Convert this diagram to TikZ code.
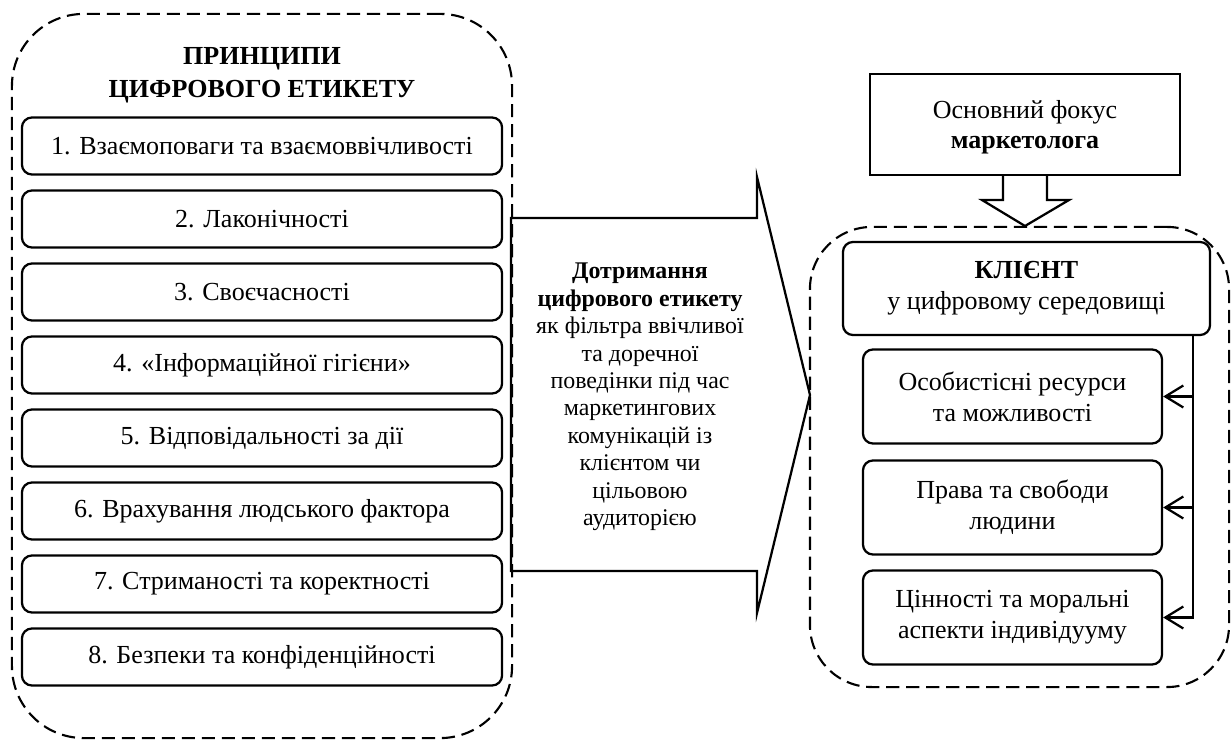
\documentclass[tikz,border=0pt]{standalone}
\usepackage{fontspec}
\setmainfont{Liberation Serif}
\usetikzlibrary{arrows.meta}

\tikzset{
  container/.style={draw, dash pattern=on 0.33cm off 0.17cm, line width=1.5pt, inner sep=0pt},
  box/.style={draw, line width=1.6pt, rounded corners=0.25cm, inner sep=0pt, align=center},
  principle/.style={box, minimum width=12cm, minimum height=1.425cm},
  aspect/.style={box, minimum width=7.475cm, minimum height=2.35cm},
  link/.style={line width=1.6pt, -{Straight Barb[length=0.45cm, width=0.55cm]}},
}

\begin{document}
\begin{tikzpicture}[x=0.025cm, y=-0.025cm, font=\fontsize{18.5pt}{22pt}\selectfont]
    \useasboundingbox (0,0) rectangle (1231,740);

    % left block
    \node[container, rounded corners=1.8cm, minimum width=12.5cm, minimum height=18.1cm] (principles) at (262,376) {};
    \node[font=\fontsize{18.5pt}{23.5pt}\selectfont\bfseries, align=center] (title) at (262,75.5) {ПРИНЦИПИ\\ЦИФРОВОГО ЕТИКЕТУ};
    \node[principle] (p1) at (262,146) {1. Взаємоповаги та взаємоввічливості};
    \node[principle] (p2) at (262,219) {2. Лаконічності};
    \node[principle] (p3) at (262,292) {3. Своєчасності};
    \node[principle] (p4) at (262,365) {4. «Інформаційної гігієни»};
    \node[principle] (p5) at (262,438) {5. Відповідальності за дії};
    \node[principle] (p6) at (262,511) {6. Врахування людського фактора};
    \node[principle] (p7) at (262,584) {7. Стриманості та коректності};
    \node[principle] (p8) at (262,657) {8. Безпеки та конфіденційності};

    % big arrow
    \draw[line width=1.6pt] (511,218) -- (757,218) -- (757,177) -- (810,395)
        -- (757,613) -- (757,571) -- (511,571) -- cycle;
    \node[align=center, font=\fontsize{17pt}{19.5pt}\selectfont] (filter) at (640,397) {\textbf{Дотримання}\\\textbf{цифрового етикету}\\як фільтра ввічливої\\та доречної\\поведінки під час\\маркетингових\\комунікацій із\\клієнтом чи\\цільовою\\аудиторією};

    % right block
    \node[draw, line width=1.6pt, minimum width=7.75cm, minimum height=2.525cm, align=center, text depth=-3pt] (focus) at (1025,124.5) {Основний фокус\\\textbf{маркетолога}};
    \draw[line width=1.6pt] (1003,175) -- (1003,200) -- (982,200) -- (1025,226)
        -- (1069,200) -- (1047,200) -- (1047,175);
    \node[container, rounded corners=1.55cm, minimum width=10.475cm, minimum height=11.5cm] (scope) at (1019.5,457) {};
    \node[box, minimum width=9.175cm, minimum height=2.325cm] (client) at (1026.5,288.5) {\textbf{КЛІЄНТ}\\у цифровому середовищі};
    \node[aspect] (resources) at (1012.5,396.5) {Особистісні ресурси\\та можливості};
    \node[aspect] (rights) at (1012.5,507.5) {Права та свободи\\людини};
    \node[aspect] (values) at (1012.5,617.5) {Цінності та моральні\\аспекти індивідууму};

    \coordinate (bus) at (1193,335);
    \draw[link] (bus) |- (values.east);
    \draw[link] (bus |- rights.east) -- (rights.east);
    \draw[link] (bus |- resources.east) -- (resources.east);
\end{tikzpicture}
\end{document}
